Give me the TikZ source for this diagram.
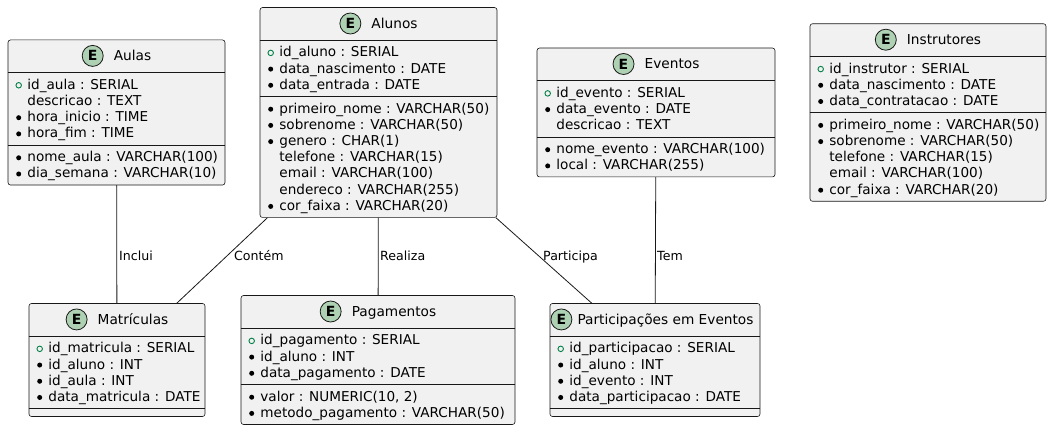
\documentclass[tikz,border=0pt]{standalone}
\usepackage{fontspec}
\setmainfont{DejaVu Sans}
\usepackage{xcolor}
\usetikzlibrary{positioning}
\definecolor{boxfill}{RGB}{241,241,241}
\definecolor{linegray}{RGB}{24,24,24}
\definecolor{entgreen}{RGB}{173,209,178}
\definecolor{pkgreen}{RGB}{3,128,72}

% rows of one section: box name, row prefix, section top, list marker/text
\newcommand{\fieldrows}[4]{%
  \foreach \m/\t [count=\i] in {#4} {
    \pgfmathsetmacro{\yy}{#3+11.85+16.2*(\i-1)}
    \path (#1.west |- 0,\yy) ++(11,1) node[\m] (#1-#2m\i) {};
    \path (#1.west |- 0,\yy) ++(19.5,5) node[field] (#1-#2\i) {\t};
  }}

\begin{document}
\begin{tikzpicture}[x=1pt, y=-1pt,
    entity/.style={draw=linegray, fill=boxfill, line width=0.6pt, rounded corners=2.5pt, inner sep=0},
    etitle/.style={font=\fontsize{13.7}{16}\selectfont, inner sep=0, text height=10.5pt, text depth=0.5pt},
    eicon/.style={circle, draw=linegray, fill=entgreen, line width=0.8pt, minimum size=21pt, inner sep=0, font=\fontsize{14}{16}\selectfont\bfseries},
    field/.style={font=\fontsize{13.6}{16}\selectfont, anchor=base west, inner sep=0},
    pkdot/.style={circle, draw=pkgreen, line width=0.9pt, inner sep=0, minimum size=5.5pt},
    reqdot/.style={circle, fill=black, inner sep=0, minimum size=5pt},
    nodot/.style={inner sep=0},
    sepline/.style={draw=linegray, line width=0.6pt},
    rel/.style={draw=linegray, line width=0.8pt},
    lbl/.style={font=\fontsize{12.6}{14}\selectfont, anchor=base west, inner sep=0}]
\useasboundingbox (0,0) rectangle (1052,430);

% top row
\node[entity, minimum width=217pt, minimum height=145.1pt] (aulas) at (116.5,112.5) {};
\node[etitle] (aulas-t) at ([xshift=16pt,yshift=-16.25pt]aulas.north) {Aulas};
\node[eicon, left=10pt of aulas-t] (aulas-e) {E};
\draw[sepline] (aulas.west |- 0,72.45) -- (aulas.east |- 0,72.45);
\draw[sepline] (aulas.west |- 0,144.95) -- (aulas.east |- 0,144.95);
\fieldrows{aulas}{a}{72.45}{pkdot/{id\_aula : SERIAL}, nodot/{descricao : TEXT}, reqdot/{hora\_inicio : TIME}, reqdot/{hora\_fim : TIME}}
\fieldrows{aulas}{b}{144.95}{reqdot/{nome\_aula : VARCHAR(100)}, reqdot/{dia\_semana : VARCHAR(10)}}

\node[entity, minimum width=237pt, minimum height=209.9pt] (alunos) at (378.5,112.5) {};
\node[etitle] (alunos-t) at ([xshift=16pt,yshift=-16.25pt]alunos.north) {Alunos};
\node[eicon, left=10pt of alunos-t] (alunos-e) {E};
\draw[sepline] (alunos.west |- 0,40.05) -- (alunos.east |- 0,40.05);
\draw[sepline] (alunos.west |- 0,96.35) -- (alunos.east |- 0,96.35);
\fieldrows{alunos}{a}{40.05}{pkdot/{id\_aluno : SERIAL}, reqdot/{data\_nascimento : DATE}, reqdot/{data\_entrada : DATE}}
\fieldrows{alunos}{b}{96.35}{reqdot/{primeiro\_nome : VARCHAR(50)}, reqdot/{sobrenome : VARCHAR(50)}, reqdot/{genero : CHAR(1)}, nodot/{telefone : VARCHAR(15)}, nodot/{email : VARCHAR(100)}, nodot/{endereco : VARCHAR(255)}, reqdot/{cor\_faixa : VARCHAR(20)}}

\node[entity, minimum width=238pt, minimum height=128.9pt] (eventos) at (656,112.5) {};
\node[etitle] (eventos-t) at ([xshift=16pt,yshift=-16.25pt]eventos.north) {Eventos};
\node[eicon, left=10pt of eventos-t] (eventos-e) {E};
\draw[sepline] (eventos.west |- 0,80.55) -- (eventos.east |- 0,80.55);
\draw[sepline] (eventos.west |- 0,136.85) -- (eventos.east |- 0,136.85);
\fieldrows{eventos}{a}{80.55}{pkdot/{id\_evento : SERIAL}, reqdot/{data\_evento : DATE}, nodot/{descricao : TEXT}}
\fieldrows{eventos}{b}{136.85}{reqdot/{nome\_evento : VARCHAR(100)}, reqdot/{local : VARCHAR(255)}}

\node[entity, minimum width=236pt, minimum height=177.5pt] (instrutores) at (928,112.5) {};
\node[etitle] (instrutores-t) at ([xshift=16pt,yshift=-16.25pt]instrutores.north) {Instrutores};
\node[eicon, left=10pt of instrutores-t] (instrutores-e) {E};
\draw[sepline] (instrutores.west |- 0,56.25) -- (instrutores.east |- 0,56.25);
\draw[sepline] (instrutores.west |- 0,112.55) -- (instrutores.east |- 0,112.55);
\fieldrows{instrutores}{a}{56.25}{pkdot/{id\_instrutor : SERIAL}, reqdot/{data\_nascimento : DATE}, reqdot/{data\_contratacao : DATE}}
\fieldrows{instrutores}{b}{112.55}{reqdot/{primeiro\_nome : VARCHAR(50)}, reqdot/{sobrenome : VARCHAR(50)}, nodot/{telefone : VARCHAR(15)}, nodot/{email : VARCHAR(100)}, reqdot/{cor\_faixa : VARCHAR(20)}}

% bottom row
\node[entity, minimum width=176pt, minimum height=113pt] (matriculas) at (117,360) {};
\node[etitle] (matriculas-t) at ([xshift=16pt,yshift=-16.25pt]matriculas.north) {Matrículas};
\node[eicon, left=10pt of matriculas-t] (matriculas-e) {E};
\draw[sepline] (matriculas.west |- 0,336) -- (matriculas.east |- 0,336);
\draw[sepline] (matriculas.west |- 0,408.5) -- (matriculas.east |- 0,408.5);
\fieldrows{matriculas}{a}{336}{pkdot/{id\_matricula : SERIAL}, reqdot/{id\_aluno : INT}, reqdot/{id\_aula : INT}, reqdot/{data\_matricula : DATE}}

\node[entity, minimum width=274pt, minimum height=128.9pt] (pagamentos) at (378,360) {};
\node[etitle] (pagamentos-t) at ([xshift=16pt,yshift=-16.25pt]pagamentos.north) {Pagamentos};
\node[eicon, left=10pt of pagamentos-t] (pagamentos-e) {E};
\draw[sepline] (pagamentos.west |- 0,328.05) -- (pagamentos.east |- 0,328.05);
\draw[sepline] (pagamentos.west |- 0,384.35) -- (pagamentos.east |- 0,384.35);
\fieldrows{pagamentos}{a}{328.05}{pkdot/{id\_pagamento : SERIAL}, reqdot/{id\_aluno : INT}, reqdot/{data\_pagamento : DATE}}
\fieldrows{pagamentos}{b}{384.35}{reqdot/{valor : NUMERIC(10, 2)}, reqdot/{metodo\_pagamento : VARCHAR(50)}}

\node[entity, minimum width=210pt, minimum height=113pt] (participacoes) at (655,360) {};
\node[etitle] (participacoes-t) at ([xshift=10.5pt,yshift=-16.25pt]participacoes.north) {Participações em Eventos};
\node[eicon, left=5pt of participacoes-t] (participacoes-e) {E};
\draw[sepline] (participacoes.west |- 0,336) -- (participacoes.east |- 0,336);
\draw[sepline] (participacoes.west |- 0,408.5) -- (participacoes.east |- 0,408.5);
\fieldrows{participacoes}{a}{336}{pkdot/{id\_participacao : SERIAL}, reqdot/{id\_aluno : INT}, reqdot/{id\_evento : INT}, reqdot/{data\_participacao : DATE}}

% relations
\draw[rel] (aulas) -- (matriculas);
\draw[rel] (alunos) -- (matriculas);
\draw[rel] (alunos) -- (pagamentos);
\draw[rel] (alunos) -- (participacoes);
\draw[rel] (eventos) -- (participacoes);
\node[lbl] (l-inclui) at (119,260.5) {Inclui};
\node[lbl] (l-contem) at (234,260.5) {Contém};
\node[lbl] (l-realiza) at (380,260.5) {Realiza};
\node[lbl] (l-participa) at (543,260.5) {Participa};
\node[lbl] (l-tem) at (657,260.5) {Tem};
\end{tikzpicture}
\end{document}
